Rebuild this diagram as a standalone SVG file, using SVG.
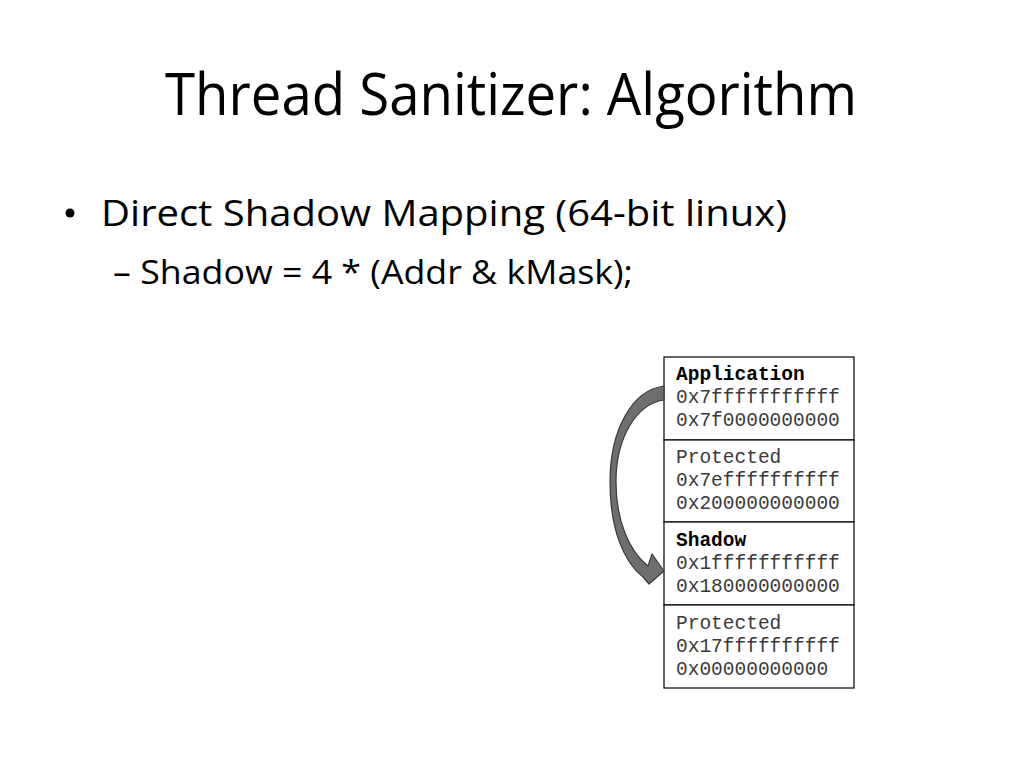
<svg xmlns="http://www.w3.org/2000/svg" width="1024" height="768" viewBox="0 0 1024 768">
<style>
.t{font-family:"Open Sans","Liberation Sans",sans-serif;fill:#000}
.m{font-family:"Liberation Mono","Courier New",monospace;font-size:19.5px;fill:#3a3a3a}
.mb{font-family:"Liberation Mono","Courier New",monospace;font-size:19.5px;font-weight:bold;fill:#000}
.box{fill:#fff;stroke:#000;stroke-width:1.2}
</style>
<rect width="1024" height="768" fill="#fff"/>
<text class="t" x="165" y="115" font-size="59" textLength="692" lengthAdjust="spacingAndGlyphs">Thread Sanitizer: Algorithm</text>
<circle cx="70" cy="213" r="4.5" fill="#000"/>
<text class="t" x="101" y="226" font-size="37" textLength="686" lengthAdjust="spacingAndGlyphs">Direct Shadow Mapping (64-bit linux)</text>
<text class="t" x="113" y="284" font-size="33" textLength="520" lengthAdjust="spacingAndGlyphs">– Shadow = 4 * (Addr &amp; kMask);</text>
<g id="app">
<rect class="box" x="664" y="357" width="190" height="83"/>
<text class="mb" x="676" y="380">Application</text>
<text class="m" x="676" y="403">0x7fffffffffff</text>
<text class="m" x="676" y="426">0x7f0000000000</text>
</g>
<g id="prot1">
<rect class="box" x="664" y="440" width="190" height="82"/>
<text class="m" x="676" y="463">Protected</text>
<text class="m" x="676" y="486">0x7effffffffff</text>
<text class="m" x="676" y="509">0x200000000000</text>
</g>
<g id="shadow">
<rect class="box" x="664" y="522" width="190" height="83"/>
<text class="mb" x="676" y="546">Shadow</text>
<text class="m" x="676" y="569">0x1fffffffffff</text>
<text class="m" x="676" y="592">0x180000000000</text>
</g>
<g id="prot2">
<rect class="box" x="664" y="605" width="190" height="83"/>
<text class="m" x="676" y="629">Protected</text>
<text class="m" x="676" y="652">0x17ffffffffff</text>
<text class="m" x="676" y="675">0x00000000000</text>
</g>
<g id="connectors">
<path d="M664,386 C632,390 610,430 610,482 C610,530 624,562 643,577 L649,584 L664,571 L652,554 L648,566 C630,552 616,522 616,482 C616,438 636,404 664,400 Z" fill="#6e6e6e" stroke="#3a3a3a" stroke-width="1.2" stroke-linejoin="round"/>
</g>
</svg>
